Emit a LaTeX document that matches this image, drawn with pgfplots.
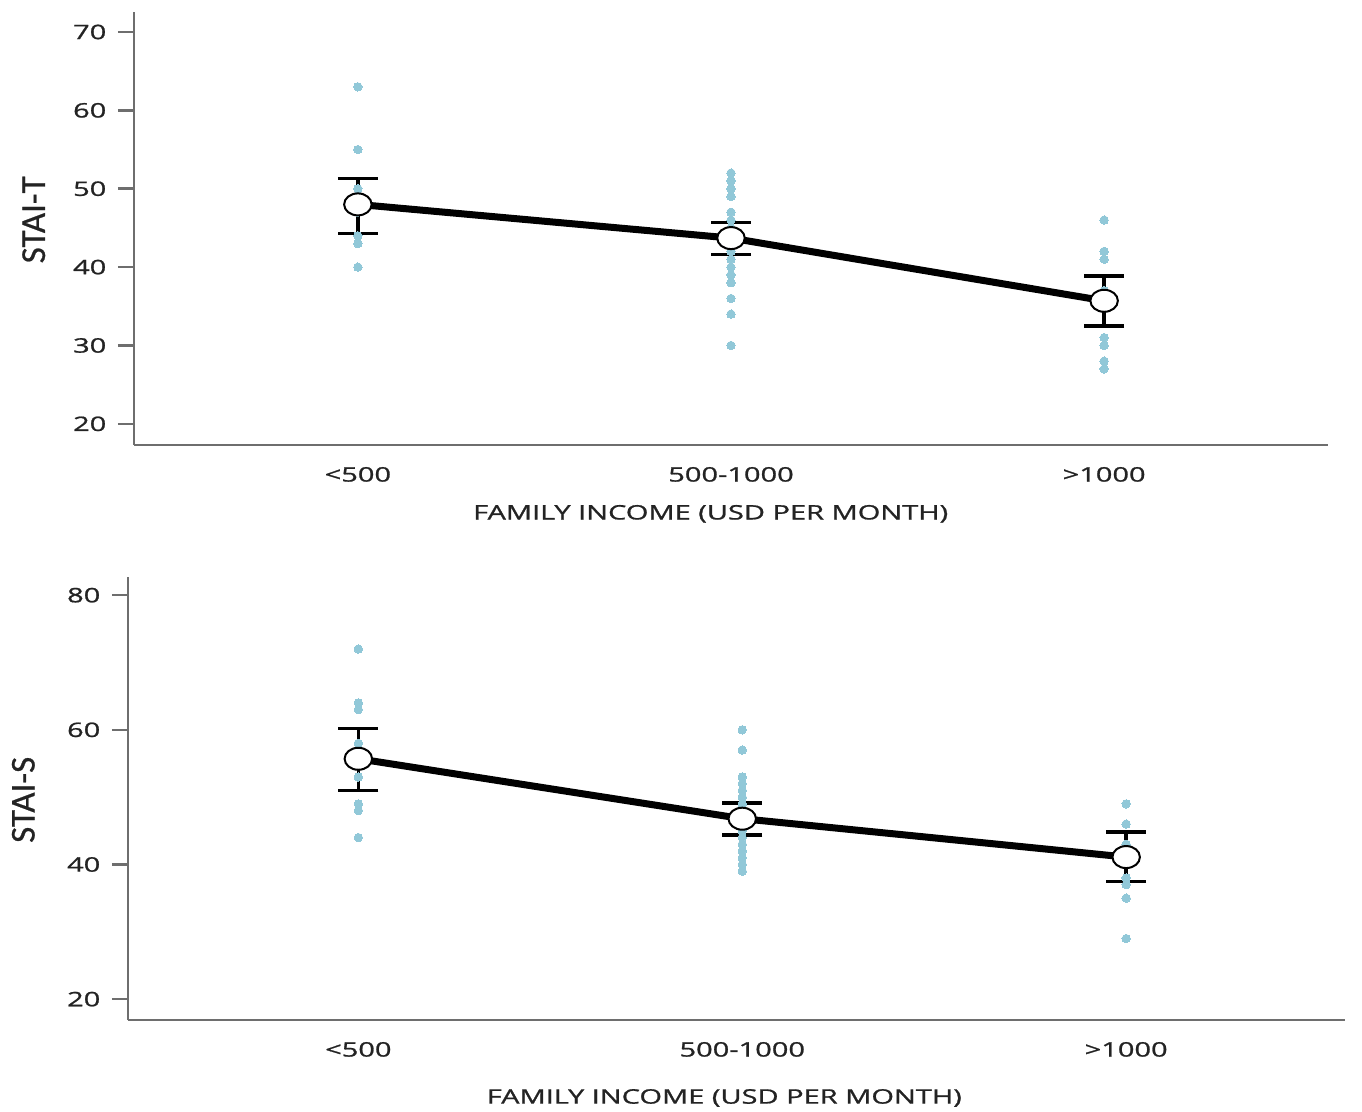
\documentclass[border=0pt]{standalone}
\usepackage{fontspec}
\setmainfont{Open Sans}[UprightFeatures={FakeBold=0.9}]
\newfontfamily\condfont{Carlito}[UprightFeatures={FakeBold=0.6}]
\usepackage{pgfplots}
\pgfplotsset{compat=1.18}
\definecolor{dotblue}{RGB}{145,200,216}
\definecolor{axgray}{RGB}{110,110,110}
\definecolor{txtgray}{RGB}{35,35,35}
\pgfplotsset{
  common/.style={
    anchor=south west, scale only axis,
    axis x line*=bottom, axis y line*=left,
    axis line style={axgray, line width=1.3pt},
    xtick={0,1,2}, xticklabels={{<500},{500-1000},{>1000}},
    x tick style={draw=none},
    y tick style={axgray, line width=1.3pt},
    tick align=outside, major tick length=8pt,
    ticklabel style={font=\fontsize{10}{12}\selectfont, text=txtgray, xscale=1.45},
    yticklabel style={xshift=-0.5pt},
    xticklabel style={yshift=0.5pt},
    /pgf/number format/assume math mode=true,
    label style={text=txtgray},
    xlabel style={font=\fontsize{10}{12}\selectfont, xscale=1.45},
    ylabel style={font=\condfont\fontsize{17.5}{20}\selectfont, rotate=0},
    clip=false,
  },
  dots/.style={dotblue, only marks, mark=*, mark size=2.1pt, mark options={draw=dotblue, fill=dotblue, line width=0pt}},
  meanline/.style={black, line width=3.5pt, mark=*, mark size=5.5pt,
    mark options={fill=white, draw=black, line width=1pt, xscale=1.25},
    error bars/.cd, y dir=both, y explicit,
    error bar style={black, line width=1.8pt},
    error mark options={rotate=90, mark size=10pt, line width=1.8pt, black}},
}
\begin{document}
\begin{tikzpicture}
\useasboundingbox (0,0) rectangle (681pt,-556pt);
% Top panel
\begin{axis}[common,
  at={(67pt,-222.5pt)}, width=597pt, height=216.5pt,
  xmin=-0.6, xmax=2.6, ymin=17.3, ymax=72.55,
  ytick={20,30,40,50,60,70},
  xlabel={FAMILY INCOME (USD PER MONTH)},
  ylabel={STAI-T},
  xlabel style={at={(axis description cs:0.483,-0.159)}, anchor=center},
  ylabel style={at={(axis description cs:-0.084,0.52)}, anchor=center, rotate=0},
]
\addplot[dots] coordinates {
 (0,63) (0,55) (0,50) (0,47) (0,44) (0,43) (0,40)
 (1,52) (1,51) (1,50) (1,49) (1,47) (1,46) (1,45) (1,43) (1,42) (1,41) (1,40) (1,39) (1,38) (1,36) (1,34) (1,30)
 (2,46) (2,42) (2,41) (2,37) (2,35) (2,31) (2,30) (2,28) (2,27)
};
\addplot[meanline] table[x=x, y=y, y error plus=ep, y error minus=em] {
x y ep em
0 48.0 3.3 3.7
1 43.7 2.0 2.1
2 35.7 3.2 3.2
};
\end{axis}
% Bottom panel
\begin{axis}[common,
  at={(64pt,-510pt)}, width=608.5pt, height=221.5pt,
  xmin=-0.6, xmax=2.57, ymin=16.9, ymax=82.7,
  ytick={20,40,60,80},
  xlabel={FAMILY INCOME (USD PER MONTH)},
  ylabel={STAI-S},
  xlabel style={at={(axis description cs:0.49,-0.176)}, anchor=center},
  ylabel style={at={(axis description cs:-0.086,0.497)}, anchor=center, rotate=0},
]
\addplot[dots] coordinates {
 (0,72) (0,64) (0,63) (0,58) (0,53) (0,49) (0,48) (0,44)
 (1,60) (1,57) (1,53) (1,52) (1,51) (1,50) (1,49) (1,48) (1,47) (1,46) (1,45) (1,44) (1,43) (1,42) (1,41) (1,40) (1,39)
 (2,49) (2,46) (2,43) (2,42) (2,38) (2,37) (2,35) (2,29)
};
\addplot[meanline] table[x=x, y=y, y error plus=ep, y error minus=em] {
x y ep em
0 55.7 4.5 4.7
1 46.8 2.3 2.4
2 41.1 3.7 3.6
};
\end{axis}
\end{tikzpicture}
\end{document}
